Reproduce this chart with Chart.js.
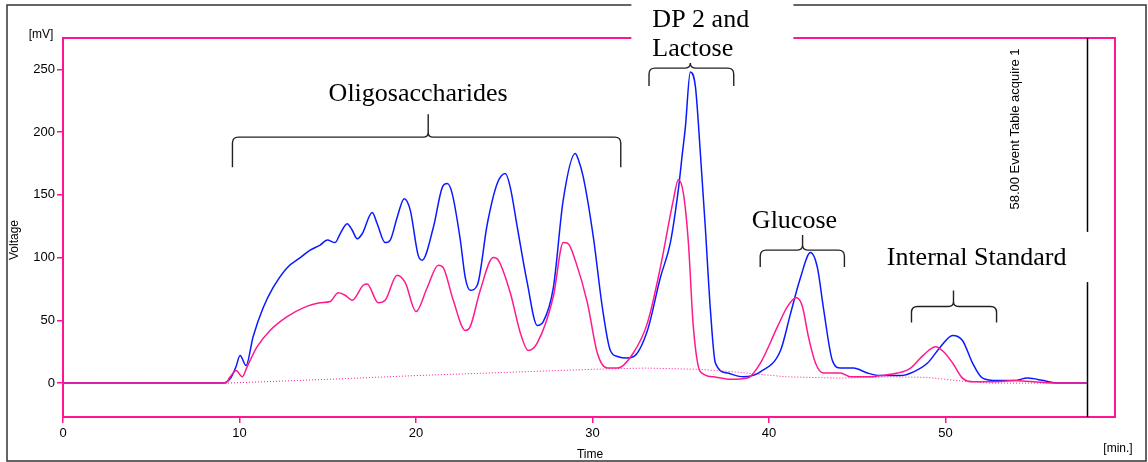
<!DOCTYPE html>
<html>
<head>
<meta charset="utf-8">
<script src="https://cdn.jsdelivr.net/npm/chart.js@4"></script>
<style>
  html, body { margin: 0; padding: 0; background: #fff; }
  canvas { display: block; }
</style>
</head>
<body>
<canvas id="grafica" width="1148" height="462"></canvas>
<script>
// chromatogram, time in min, signal in mV
var blueTime = [0, 9.0, 9.5, 9.8, 10.03, 10.37, 10.77, 11.34, 11.9, 12.7, 13.44, 14.0, 14.57, 14.97, 15.42, 15.7, 16.1, 16.38, 16.67, 16.95, 17.52, 17.8, 18.25, 18.54, 18.93, 19.33, 19.67, 20.12, 20.35, 20.98, 21.49, 21.77, 22.05, 22.51, 22.79, 23.07, 23.47, 24.04, 24.6, 25.06, 25.34, 25.74, 26.3, 26.87, 27.21, 27.78, 28.34, 29.02, 29.2, 29.48, 30.05, 30.56, 31.01, 31.46, 31.9, 32.31, 33.11, 33.84, 34.41, 34.86, 35.09, 35.26, 35.54, 35.83, 36.11, 36.39, 36.68, 36.96, 37.64, 38.55, 39.51, 40.65, 41.21, 41.78, 42.35, 42.74, 43.08, 43.59, 44.05, 44.78, 45.58, 46.32, 47.45, 48.19, 48.98, 49.72, 50.4, 50.96, 51.53, 52.1, 52.95, 53.85, 54.65, 55.56, 56.35, 58];
var blueVolt = [0, 0, 4, 13, 22, 14, 37, 60, 76, 92, 100, 106, 110, 114, 112, 119, 127, 122, 115, 119, 136, 127, 112, 114, 132, 147, 138, 102, 98, 124, 156, 159, 151, 114, 84, 74, 78, 127, 159, 167, 156, 124, 80, 46, 49, 76, 146, 183, 178, 164, 116, 60, 26, 21, 20, 21, 42, 84, 112, 154, 183, 204, 248, 236, 183, 124, 58, 16, 8, 5, 9, 26, 55, 84, 104, 92, 60, 18, 12, 12, 8, 6, 6, 9, 16, 29, 38, 34, 16, 4, 2, 2, 4, 2, 0, 0];

var pinkTime = [0, 9.2, 9.47, 9.81, 10.15, 10.43, 11.0, 11.73, 12.7, 13.61, 14.57, 15.14, 15.59, 15.99, 16.38, 17.01, 17.23, 17.86, 18.25, 18.93, 19.39, 20.0, 20.63, 21.26, 21.54, 22.11, 22.79, 23.07, 23.64, 24.38, 24.66, 25.34, 25.91, 26.36, 26.87, 27.78, 28.34, 28.63, 29.02, 29.71, 30.27, 30.84, 31.41, 32.31, 33.11, 33.84, 34.58, 34.86, 35.15, 35.43, 35.71, 36.11, 36.85, 37.81, 38.78, 39.51, 40.48, 41.04, 41.55, 41.89, 42.23, 42.63, 43.08, 44.05, 44.61, 45.58, 46.32, 47.28, 48.02, 48.58, 49.04, 49.43, 49.89, 50.4, 50.96, 51.59, 52.72, 53.85, 54.99, 56.69, 58];
var pinkVolt = [0, 0, 5, 10, 5, 13, 29, 42, 53, 60, 64, 65, 72, 70, 66, 78, 79, 64, 66, 86, 80, 57, 76, 94, 92, 66, 42, 45, 74, 100, 98, 72, 40, 26, 32, 69, 112, 111, 98, 64, 24, 12, 12, 24, 48, 92, 146, 162, 151, 112, 45, 9, 5, 3, 4, 16, 45, 61, 68, 61, 37, 16, 8, 8, 5, 5, 6, 8, 12, 20, 26, 29, 25, 16, 4, 1, 1, 2, 1, 0, 0];

var baseTime = [0, 9.3, 15, 20, 25, 30, 33, 36, 38, 41, 44, 47, 49, 51, 52.5, 58];
var baseVolt = [0, 0, 3, 6, 8.5, 11, 12, 11, 9, 5, 4, 5, 4.5, 1.5, 0, 0];

var xTicks = [0, 10, 20, 30, 40, 50];
var yTicks = [0, 50, 100, 150, 200, 250];

var eventTime = 58;
var eventText = '58.00 Event Table acquire 1';

// brace annotations: span in min, height in mV
var braces = [
    { from: 9.6, to: 31.6, mid: 20.69, level: 196, drop: 30, notch: 23 },
    { from: 33.2, to: 38.0, mid: 35.54, level: 251, drop: 18, notch: 5 },
    { from: 39.5, to: 44.27, mid: 41.9, level: 106, drop: 17, notch: 15 },
    { from: 48.07, to: 52.89, mid: 50.45, level: 61, drop: 16, notch: 16 }
];
var labels = [
    { text: 'Oligosaccharides', x: 20.12, y: 225, align: 'center' },
    { text: 'DP 2 and', x: 33.39, y: 284, align: 'left' },
    { text: 'Lactose', x: 33.39, y: 260.5, align: 'left' },
    { text: 'Glucose', x: 41.44, y: 123.5, align: 'center' },
    { text: 'Internal Standard', x: 51.76, y: 94, align: 'center' }
];
// white boxes behind labels (min / mV)
var cutouts = [
    { x1: 32.2, x2: 41.38, y1: 305, y2: 259.5 },
    { x1: 46.3, x2: 58.6, y1: 120.5, y2: 80.5 }
];

var rosa = '#ff1493';

function pts(t, v) {
    return t.map(function (x, i) { return { x: x, y: v[i] }; });
}

var extras = {
    id: 'extras',
    afterDraw: function (chart) {
        var ctx = chart.ctx;
        var a = chart.chartArea;
        var sx = chart.scales.x, sy = chart.scales.y;
        ctx.save();

        // outer frame
        ctx.strokeStyle = '#333';
        ctx.lineWidth = 1.5;
        ctx.strokeRect(7, 5, 1139, 456);

        // plot frame
        ctx.strokeStyle = rosa;
        ctx.lineWidth = 2;
        ctx.strokeRect(a.left, a.top, a.right - a.left, a.bottom - a.top);

        // event line
        var ex = Math.round(sx.getPixelForValue(eventTime)) + 0.5;
        ctx.strokeStyle = '#000';
        ctx.lineWidth = 1.5;
        ctx.beginPath();
        ctx.moveTo(ex, a.top);
        ctx.lineTo(ex, a.bottom);
        ctx.stroke();

        ctx.fillStyle = '#000';
        ctx.font = '13px "Liberation Sans"';
        ctx.save();
        ctx.translate(ex - 72, 129);
        ctx.rotate(-Math.PI / 2);
        ctx.textAlign = 'center';
        ctx.textBaseline = 'middle';
        ctx.fillText(eventText, 0, 0);
        ctx.restore();

        // axis titles
        ctx.font = '12px "Liberation Sans"';
        ctx.textAlign = 'center';
        ctx.textBaseline = 'middle';
        ctx.fillText('[mV]', 41, 35);
        ctx.fillText('[min.]', 1118, 449);
        ctx.fillText('Time', 590, 455);
        ctx.save();
        ctx.translate(15, 240);
        ctx.rotate(-Math.PI / 2);
        ctx.fillText('Voltage', 0, 0);
        ctx.restore();

        // white boxes
        ctx.fillStyle = '#fff';
        cutouts.forEach(function (c) {
            var x1 = sx.getPixelForValue(c.x1), x2 = sx.getPixelForValue(c.x2);
            var y1 = sy.getPixelForValue(c.y1), y2 = sy.getPixelForValue(c.y2);
            ctx.fillRect(x1, y1, x2 - x1, y2 - y1);
        });

        // braces
        ctx.strokeStyle = '#222';
        ctx.lineWidth = 1.4;
        braces.forEach(function (b) {
            var x1 = sx.getPixelForValue(b.from), x2 = sx.getPixelForValue(b.to);
            var xc = sx.getPixelForValue(b.mid), y = sy.getPixelForValue(b.level);
            var r = 6, n = Math.min(5, b.notch);
            ctx.beginPath();
            ctx.moveTo(x1, y + b.drop);
            ctx.lineTo(x1, y + r);
            ctx.quadraticCurveTo(x1, y, x1 + r, y);
            ctx.lineTo(xc - n, y);
            ctx.quadraticCurveTo(xc, y, xc, y - n);
            ctx.lineTo(xc, y - b.notch);
            ctx.moveTo(xc, y - n);
            ctx.quadraticCurveTo(xc, y, xc + n, y);
            ctx.lineTo(x2 - r, y);
            ctx.quadraticCurveTo(x2, y, x2, y + r);
            ctx.lineTo(x2, y + b.drop);
            ctx.stroke();
        });

        // labels
        ctx.fillStyle = '#000';
        ctx.font = '26px "Liberation Serif"';
        ctx.textBaseline = 'alphabetic';
        labels.forEach(function (l) {
            ctx.textAlign = l.align;
            ctx.fillText(l.text, sx.getPixelForValue(l.x), sy.getPixelForValue(l.y));
        });
        ctx.restore();
    }
};

var ctx = document.getElementById('grafica').getContext('2d');
var chart = new Chart(ctx, {
    type: 'line',
    data: {
        datasets: [
            {
                data: pts(baseTime, baseVolt),
                borderColor: rosa,
                borderWidth: 1,
                borderDash: [1, 2],
                pointRadius: 0,
                tension: 0
            },
            {
                data: pts(pinkTime, pinkVolt),
                borderColor: '#ff1a8c',
                borderWidth: 1.5,
                pointRadius: 0,
                cubicInterpolationMode: 'monotone'
            },
            {
                data: pts(blueTime, blueVolt),
                borderColor: '#0a1aff',
                borderWidth: 1.5,
                pointRadius: 0,
                cubicInterpolationMode: 'monotone'
            }
        ]
    },
    options: {
        responsive: false,
        animation: false,
        devicePixelRatio: 1,
        layout: { padding: { top: 38, right: 33, left: 0, bottom: 0 } },
        plugins: { legend: { display: false }, tooltip: { enabled: false } },
        scales: {
            x: {
                type: 'linear',
                min: 0,
                max: 59.6,
                afterBuildTicks: function (s) { s.ticks = xTicks.map(function (v) { return { value: v }; }); },
                afterFit: function (s) { s.height = 45; },
                grid: { drawOnChartArea: false, color: rosa, lineWidth: 1.5, tickLength: 6 },
                border: { display: false },
                ticks: { color: '#000', font: { family: 'Liberation Sans', size: 13 }, padding: 3, maxRotation: 0, autoSkip: false }
            },
            y: {
                min: -27,
                max: 275,
                afterBuildTicks: function (s) { s.ticks = yTicks.map(function (v) { return { value: v }; }); },
                afterFit: function (s) { s.width = 63; },
                grid: { drawOnChartArea: false, color: rosa, lineWidth: 1.5, tickLength: 6 },
                border: { display: false },
                ticks: { color: '#000', font: { family: 'Liberation Sans', size: 13 }, padding: 2, autoSkip: false }
            }
        }
    },
    plugins: [extras]
});
</script>
</body>
</html>
